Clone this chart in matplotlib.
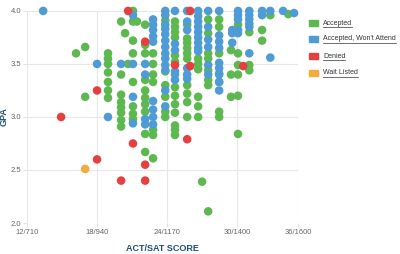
import matplotlib
matplotlib.use('Agg')
import matplotlib.pyplot as plt
from matplotlib.lines import Line2D
from matplotlib.patches import Rectangle

plt.rcParams['font.family'] = ['Liberation Sans', 'DejaVu Sans']

# --- DATA (SAT score -> list of GPAs) ---
accepted = {
    871: [3.60],
    901: [3.66, 3.19],
    976: [3.60, 3.55, 3.50, 3.42, 3.33, 3.25, 3.18],
    1019: [3.90, 3.40, 3.21, 3.14, 3.09, 3.04, 2.97, 2.91],
    1032: [3.79],
    1042: [3.50],
    1058: [4.00, 3.90, 3.72, 3.60, 3.33, 3.10, 3.03, 2.98],
    1071: [3.90],
    1098: [3.87, 3.68, 3.60, 3.35, 3.25, 3.18, 3.12, 3.05, 2.84, 2.67],
    1124: [3.60, 3.50, 3.40, 3.33, 2.88, 2.83, 2.61],
    1164: [3.91, 3.43, 3.30, 3.19, 3.05, 3.00],
    1196: [3.90, 3.85, 3.80, 3.75, 3.58, 3.52, 3.28, 3.20, 3.12, 3.04, 2.92, 2.88, 2.83],
    1236: [3.87, 3.74, 3.70, 3.65, 3.60, 3.55, 3.30, 3.22, 3.14, 3.00],
    1272: [3.55, 3.50, 3.45, 3.19, 3.10, 3.00],
    1285: [2.39],
    1305: [3.92, 3.79, 3.60, 3.55, 3.44, 3.35, 3.30, 2.11],
    1341: [3.92, 3.85, 3.60, 3.41, 3.33, 3.05, 3.00],
    1380: [3.63, 3.40, 3.19],
    1403: [3.87, 3.60, 3.49, 3.40, 3.20, 2.84],
    1440: [3.80, 3.49, 3.44],
    1482: [3.82, 3.72],
    1509: [3.96],
    1568: [3.97],
}
wont_attend = {
    763: [4.00],
    940: [3.50],
    976: [3.00],
    1019: [3.50],
    1058: [3.96, 3.50, 3.19, 2.94],
    1098: [3.50, 3.40, 2.98, 2.93],
    1124: [3.92, 3.87, 3.82, 3.76, 3.71, 3.15, 3.07, 3.00, 2.93],
    1164: [4.00, 3.96, 3.87, 3.83, 3.78, 3.72, 3.66, 3.60, 3.55, 3.49, 3.44, 3.25, 3.10],
    1196: [4.00, 3.69, 3.63, 3.43, 3.40, 3.35],
    1236: [4.00, 3.90, 3.82, 3.46, 3.40, 3.36],
    1272: [4.00, 3.95, 3.90, 3.85, 3.80, 3.75, 3.70, 3.65, 3.62],
    1305: [4.00, 3.85, 3.73, 3.66, 3.49, 3.40],
    1341: [4.00, 3.77, 3.71, 3.65, 3.51, 3.46, 3.40, 3.33, 3.25],
    1384: [3.82, 3.79, 3.70],
    1403: [4.00, 3.96, 3.92, 3.82, 3.79],
    1440: [4.00, 3.96, 3.92, 3.88, 3.85, 3.60],
    1482: [4.00, 3.96],
    1509: [4.00, 3.56],
    1551: [4.00],
    1587: [3.98],
}
denied = {
    822: [3.00],
    940: [3.25, 2.60],
    1019: [2.40],
    1042: [4.00],
    1058: [2.75],
    1098: [3.71, 2.55, 2.40],
    1196: [3.49],
    1236: [2.79],
    1246: [4.00, 3.48],
    1420: [3.48],
}
wait_listed = {
    901: [2.51],
}

series_names = ['Accepted', "Accepted, Won't Attend", 'Denied', 'Wait Listed']
series_data = [accepted, wont_attend, denied, wait_listed]
series_colors = ['#5cb84f', '#4e9bd5', '#e5403f', '#f5aa3c']

x_ticks = [710, 940, 1170, 1400, 1600]
x_labels = ['12/710', '18/940', '24/1170', '30/1400', '36/1600']
y_ticks = [2.0, 2.5, 3.0, 3.5, 4.0]

# --- PLOT ---
fig = plt.figure(figsize=(4.0, 2.54), dpi=100, facecolor='white')
ax = fig.add_axes([0.0675, 0.122, 0.6775, 0.835])

for data, color in zip(series_data, series_colors):
    xs = [sat for sat, gpas in data.items() for _ in gpas]
    ys = [g for gpas in data.values() for g in gpas]
    ax.scatter(xs, ys, s=38, color=color, edgecolors='none', clip_on=False, zorder=3)

ax.set_xlim(710, 1600)
ax.set_ylim(2.0, 4.0)
ax.set_xticks(x_ticks)
ax.set_xticklabels(x_labels)
ax.set_yticks(y_ticks)
ax.set_yticklabels([f'{v:.1f}' for v in y_ticks])
ax.grid(True, color='#e8e8e8', linewidth=0.8)
ax.set_axisbelow(True)
for s in ax.spines.values():
    s.set_visible(False)
ax.tick_params(axis='both', labelsize=5.5, colors='#dddddd', labelcolor='#666666',
               length=3, width=0.6, pad=1)

ax.set_xlabel('ACT/SAT SCORE', fontsize=6.5, fontweight='bold', color='#1f4f77', labelpad=6)
ax.set_ylabel('GPA', fontsize=6.5, fontweight='bold', color='#1f4f77')
ax.yaxis.set_label_coords(-0.068, 0.5)

# --- LEGEND (hand drawn so the labels can be underlined) ---
W, H = 400.0, 254.0
rows_y = [23, 39, 56, 73]
labels = []
for name, color, py in zip(series_names, series_colors, rows_y):
    fig.add_artist(Rectangle((309 / W, 1 - (py + 3) / H), 9 / W, 6 / H,
                             transform=fig.transFigure, color=color))
    t = fig.text(323 / W, 1 - py / H, name, fontsize=5, color='#333333', va='center')
    labels.append(t)

fig.canvas.draw()
renderer = fig.canvas.get_renderer()
for t in labels:
    bb = t.get_window_extent(renderer)
    fig.add_artist(Line2D([bb.x0 / W, bb.x1 / W], [(bb.y0 - 0.5) / H] * 2,
                          transform=fig.transFigure, color='#333333', linewidth=0.5))

fig.savefig('out.png', dpi=100, facecolor='white')
